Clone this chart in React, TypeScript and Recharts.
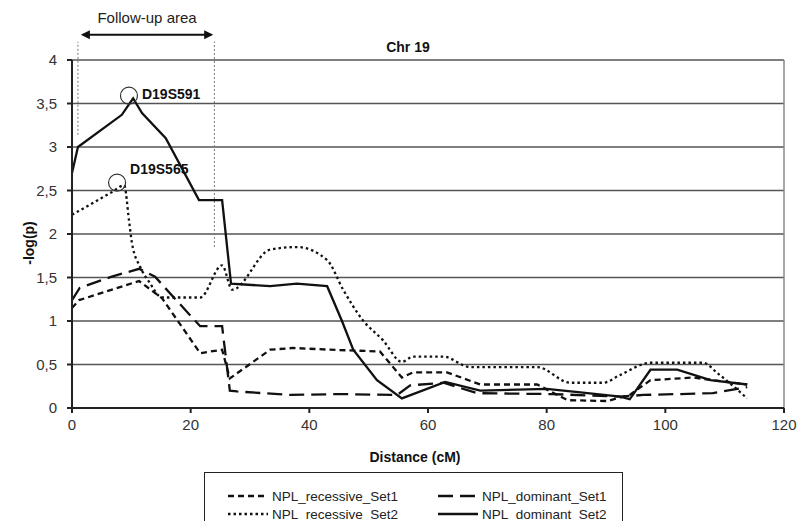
import React from "react";
import { LineChart, Line, XAxis, YAxis, CartesianGrid, ReferenceLine, ReferenceDot } from "recharts";

// distances (cM) and -log(p)
const recSet1X = [0, 1.2, 11.3, 15.2, 21.6, 25.3, 26.6, 33.4, 37.3, 43.5, 51.9, 55.6, 57.5, 63.2, 68.8, 78.4, 83.5, 90.2, 94, 97.5, 104.7, 113.8];
const recSet1Y = [1.15, 1.24, 1.46, 1.26, 0.63, 0.67, 0.34, 0.67, 0.69, 0.67, 0.65, 0.35, 0.41, 0.41, 0.27, 0.27, 0.09, 0.08, 0.15, 0.32, 0.35, 0.27];

const domSet1X = [0, 1.3, 6.7, 11.3, 14, 15.7, 21.6, 25.3, 26.6, 27.8, 36.8, 45.2, 54.8, 57, 62.6, 68.3, 81, 92.4, 96.3, 108, 113.8];
const domSet1Y = [1.24, 1.38, 1.51, 1.6, 1.51, 1.38, 0.94, 0.94, 0.2, 0.19, 0.15, 0.16, 0.15, 0.26, 0.29, 0.17, 0.16, 0.13, 0.15, 0.17, 0.24];

const recSet2X = [0, 6.7, 8.8, 9.6, 10.1, 11.5, 13, 15.2, 21.6, 25.3, 27, 33.4, 37.9, 43, 45.7, 49, 52.4, 55.6, 57.5, 62.6, 67.1, 78.4, 84, 89.5, 92.4, 97.5, 106.4, 108.8, 113.8];
const recSet2Y = [2.22, 2.48, 2.56, 2.16, 1.9, 1.62, 1.45, 1.27, 1.27, 1.64, 1.36, 1.82, 1.85, 1.7, 1.36, 1.01, 0.78, 0.53, 0.59, 0.59, 0.47, 0.47, 0.29, 0.29, 0.38, 0.52, 0.52, 0.4, 0.11];

const domSet2X = [0, 1, 8.4, 10.3, 11.8, 15.8, 21.4, 25.3, 26.8, 33.4, 37.9, 43, 45.5, 47.4, 51.4, 55.6, 62.9, 68.8, 80, 85.7, 92.4, 94, 97.5, 102, 107.6, 113.8];
const domSet2Y = [2.7, 3.0, 3.37, 3.56, 3.39, 3.1, 2.39, 2.39, 1.43, 1.4, 1.43, 1.4, 1.0, 0.67, 0.32, 0.11, 0.3, 0.2, 0.22, 0.18, 0.13, 0.1, 0.44, 0.44, 0.32, 0.27];

const xTicks = [0, 20, 40, 60, 80, 100, 120];
const yTicks = [0, 0.5, 1, 1.5, 2, 2.5, 3, 3.5, 4];

const toRows = (xs: number[], ys: number[]) => xs.map((x, i) => ({ x, y: ys[i] }));

const series = [
  { name: "NPL_recessive_Set1", data: toRows(recSet1X, recSet1Y), dash: "6 4", type: "linear" },
  { name: "NPL_dominant_Set1", data: toRows(domSet1X, domSet1Y), dash: "15 7", type: "linear" },
  { name: "NPL_recessive_Set2", data: toRows(recSet2X, recSet2Y), dash: "2.5 3", type: "monotone" },
  { name: "NPL_dominant_Set2", data: toRows(domSet2X, domSet2Y), dash: undefined, type: "linear" },
];
const legendOrder = [0, 1, 2, 3];

const FONT = "'Liberation Sans', Arial, sans-serif";

const Arrow = (p: any) => {
  const { x1, y1, x2 } = p;
  return (
    <g>
      <line x1={x1 + 2} y1={y1} x2={x2 - 2} y2={y1} stroke="#111" strokeWidth={2} />
      <polygon points={`${x1},${y1} ${x1 + 9},${y1 - 4.5} ${x1 + 9},${y1 + 4.5}`} fill="#111" />
      <polygon points={`${x2},${y1} ${x2 - 9},${y1 - 4.5} ${x2 - 9},${y1 + 4.5}`} fill="#111" />
      <text x={(x1 + x2) / 2} y={y1 - 12} textAnchor="middle" fontSize={15} fill="#222" fontFamily={FONT}>
        Follow-up area
      </text>
    </g>
  );
};

const markerLabel = (text: string, dx: number, dy: number) => (props: any) => {
  const vb = props.viewBox;
  const cx = vb.x + vb.width / 2;
  const cy = vb.y + vb.height / 2;
  return (
    <text x={cx + dx} y={cy + dy} dominantBaseline="middle" fontSize={14} fontWeight="bold" fill="#111" fontFamily={FONT}>
      {text}
    </text>
  );
};

export default function App() {
  return (
    <div style={{ position: "absolute", left: 0, top: 0, width: 799, height: 521, background: "#fff", fontFamily: FONT, overflow: "hidden" }}>
      <LineChart width={799} height={521} margin={{ top: 60, right: 15, left: 0, bottom: 83 }}>
        <CartesianGrid vertical={false} stroke="#555" strokeWidth={1.5} />
        <XAxis
          type="number"
          dataKey="x"
          domain={[0, 120]}
          ticks={xTicks}
          allowDataOverflow
          stroke="#222"
          strokeWidth={2}
          tickSize={5}
          tickMargin={6}
          tick={{ fill: "#333", fontSize: 15, fontFamily: FONT }}
          height={30}
          label={{
            content: (p: any) => (
              <text x={415} y={p.viewBox.y + 54} textAnchor="middle" fontSize={14} fontWeight="bold" fill="#111" fontFamily={FONT}>
                Distance (cM)
              </text>
            ),
          }}
        />
        <YAxis
          type="number"
          domain={[0, 4]}
          ticks={yTicks}
          width={72}
          stroke="#222"
          strokeWidth={2}
          tickSize={5}
          tickMargin={10}
          tickFormatter={(v: number) => String(v).replace(".", ",")}
          tick={{ fill: "#333", fontSize: 15, fontFamily: FONT }}
          label={{
            content: () => {
              const cx = 30;
              const cy = 243;
              return (
                <text x={cx} y={cy} transform={`rotate(-90 ${cx} ${cy})`} textAnchor="middle" dominantBaseline="middle" fontSize={14} fontWeight="bold" fill="#111" fontFamily={FONT}>
                  -log(p)
                </text>
              );
            },
          }}
        />
        <ReferenceLine x={120} stroke="#888" strokeWidth={1.5} />
        <ReferenceLine segment={[{ x: 1, y: 3.14 }, { x: 1, y: 4.21 }]} stroke="#777" strokeWidth={1} strokeDasharray="2 2" ifOverflow="visible" />
        <ReferenceLine segment={[{ x: 24, y: 1.85 }, { x: 24, y: 4.21 }]} stroke="#777" strokeWidth={1} strokeDasharray="2 2" ifOverflow="visible" />
        <ReferenceLine segment={[{ x: 1.5, y: 4.29 }, { x: 23.8, y: 4.29 }]} ifOverflow="visible" shape={Arrow} />
        {series.map((s) => (
          <Line
            key={s.name}
            data={s.data}
            dataKey="y"
            name={s.name}
            type={s.type as any}
            stroke="#111"
            strokeWidth={2.3}
            strokeDasharray={s.dash}
            dot={false}
            activeDot={false}
            isAnimationActive={false}
          />
        ))}
        <ReferenceDot x={9.6} y={3.59} r={8.5} fill="none" stroke="#333" strokeWidth={1.2} ifOverflow="visible" label={{ content: markerLabel("D19S591", 13, 0) }} />
        <ReferenceDot x={7.6} y={2.59} r={8.5} fill="none" stroke="#333" strokeWidth={1.2} ifOverflow="visible" label={{ content: markerLabel("D19S565", 13, -12) }} />
      </LineChart>
      <div style={{ position: "absolute", left: 380, top: 39, width: 56, textAlign: "center", fontSize: 14, fontWeight: "bold", color: "#111" }}>
        Chr 19
      </div>
      <div style={{ position: "absolute", left: 204, top: 472, width: 419, height: 60, border: "1.5px solid #222", boxSizing: "border-box" }}>
        {legendOrder.map((idx, i) => {
          const s = series[idx];
          const col = i % 2;
          const row = Math.floor(i / 2);
          return (
            <div key={s.name} style={{ position: "absolute", left: col === 0 ? 22 : 232, top: 14 + row * 18, display: "flex", alignItems: "center", height: 18 }}>
              <svg width={42} height={18}>
                <line x1={1} y1={9} x2={41} y2={9} stroke="#111" strokeWidth={2.3} strokeDasharray={s.dash} />
              </svg>
              <span style={{ marginLeft: 3, fontSize: 13.5, color: "#222", whiteSpace: "nowrap" }}>{s.name}</span>
            </div>
          );
        })}
      </div>
    </div>
  );
}
